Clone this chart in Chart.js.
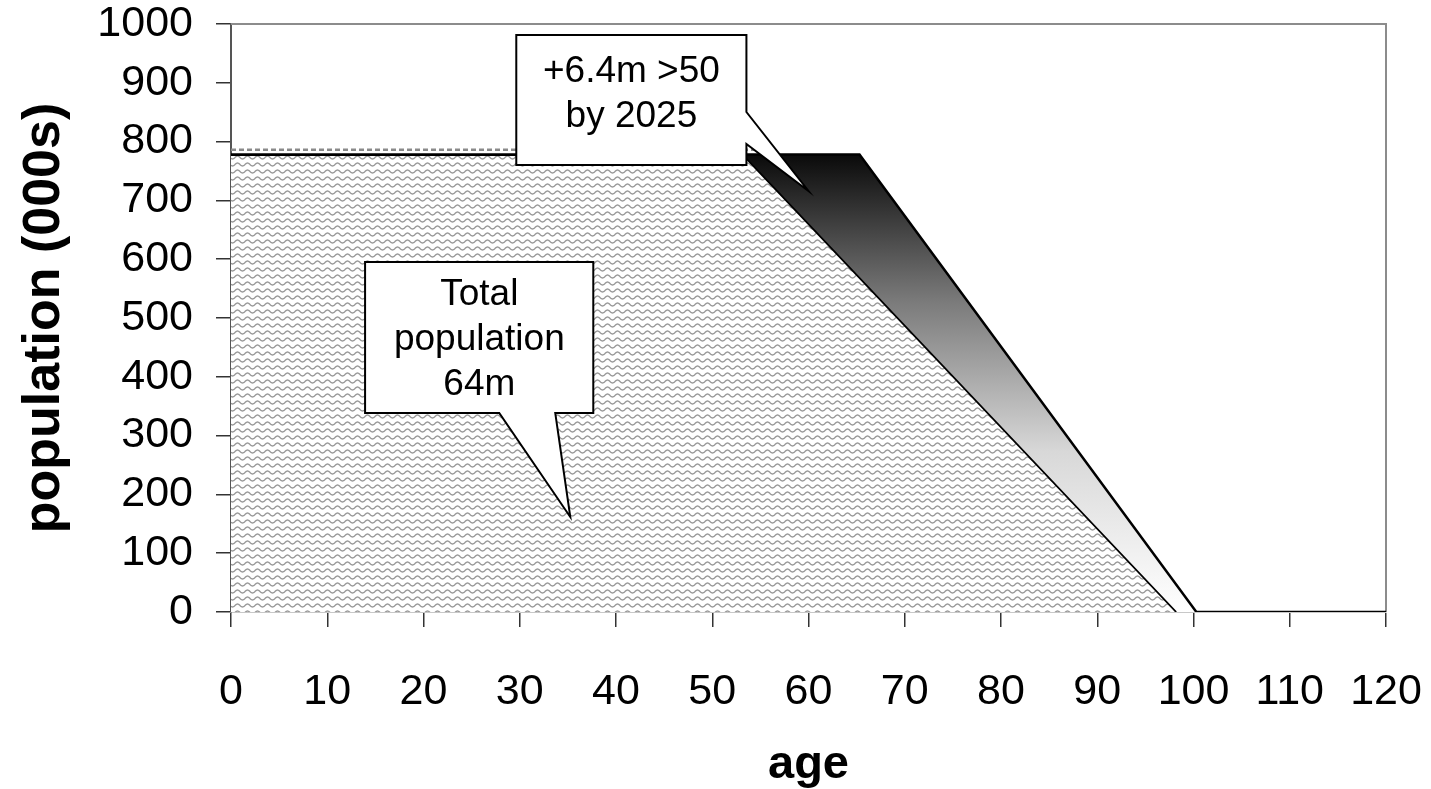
<!DOCTYPE html>
<html>
<head>
<meta charset="utf-8">
<script src="https://cdn.jsdelivr.net/npm/chart.js@4.4.1/dist/chart.umd.min.js"></script>
<style>
  html, body { margin: 0; padding: 0; background: #fff; }
  #wrap { width: 1431px; height: 789px; position: relative; }
</style>
</head>
<body>
<div id="wrap"><canvas id="c" width="1431" height="789"></canvas></div>
<script>
// ---- data ----
const totalAges   = [0, 53.2, 98.2];
const totalValues = [777, 777, 0];
const future2025Ages   = [0, 65.3, 100.3, 120];
const future2025Values = [778, 778, 0, 0];
const dashAges   = [0, 55];
const dashValues = [786, 786];
const xTicks = [0, 10, 20, 30, 40, 50, 60, 70, 80, 90, 100, 110, 120];
const yTicks = [0, 100, 200, 300, 400, 500, 600, 700, 800, 900, 1000];
const callout1Lines = ['Total', 'population', '64m'];
const callout2Lines = ['+6.4m >50', 'by 2025'];

const toPts = (xs, ys) => xs.map((x, i) => ({ x: x, y: ys[i] }));

// wavy hatch pattern
function makePattern() {
  const pc = document.createElement('canvas');
  pc.width = 10; pc.height = 7;
  const p = pc.getContext('2d');
  p.fillStyle = '#ffffff';
  p.fillRect(0, 0, 10, 7);
  p.strokeStyle = '#9a9a9a';
  p.lineWidth = 1.4;
  p.beginPath();
  for (let x = -2; x <= 12; x += 0.5) {
    const y = 3.5 + 1.5 * Math.sin(2 * Math.PI * x / 10);
    if (x === -2) p.moveTo(x, y); else p.lineTo(x, y);
  }
  p.stroke();
  return p.createPattern(pc, 'repeat');
}

const FONT = "'Liberation Sans', Arial, Helvetica, sans-serif";

const frame = {
  id: 'frame',
  beforeDatasetsDraw(chart) {
    const { ctx, chartArea: a } = chart;
    ctx.save();
    ctx.strokeStyle = '#8c8c8c';
    ctx.lineWidth = 2;
    ctx.beginPath();
    ctx.moveTo(a.left, a.top);
    ctx.lineTo(a.right, a.top);
    ctx.lineTo(a.right, a.bottom);
    ctx.stroke();
    ctx.restore();
  }
};

function drawCallout(chart, box, pointer, lines, textX, textYs) {
  const { ctx, scales } = chart;
  const X = v => scales.x.getPixelForValue(v);
  const Y = v => scales.y.getPixelForValue(v);
  const l = X(box[0]), r = X(box[1]), t = Y(box[2]), b = Y(box[3]);
  ctx.save();
  ctx.fillStyle = '#ffffff';
  ctx.strokeStyle = '#000000';
  ctx.lineWidth = 2;
  ctx.lineJoin = 'miter';
  ctx.beginPath();
  ctx.moveTo(l, t);
  ctx.lineTo(r, t);
  if (pointer.side === 'right') {
    ctx.lineTo(r, Y(pointer.a));
    ctx.lineTo(X(pointer.tip[0]), Y(pointer.tip[1]));
    ctx.lineTo(r, Y(pointer.b));
    ctx.lineTo(r, b);
    ctx.lineTo(l, b);
  } else {
    ctx.lineTo(r, b);
    ctx.lineTo(X(pointer.b), b);
    ctx.lineTo(X(pointer.tip[0]), Y(pointer.tip[1]));
    ctx.lineTo(X(pointer.a), b);
    ctx.lineTo(l, b);
  }
  ctx.closePath();
  ctx.fill();
  ctx.stroke();
  ctx.fillStyle = '#000';
  ctx.font = '37px ' + FONT;
  ctx.textAlign = 'center';
  ctx.textBaseline = 'middle';
  lines.forEach((s, i) => ctx.fillText(s, X(textX), Y(textYs[i])));
  ctx.restore();
}

const callouts = {
  id: 'callouts',
  afterDatasetsDraw(chart) {
    drawCallout(chart, [13.93, 37.64, 595.2, 338.4],
      { side: 'bottom', a: 27.87, b: 33.69, tip: [35.25, 161.6] },
      callout1Lines, 25.8, [539, 462.6, 386]);
    drawCallout(chart, [29.64, 53.55, 981.3, 760.2],
      { side: 'right', a: 850.3, b: 795.9, tip: [60.0, 716.0] },
      callout2Lines, 41.6, [918.4, 841.8]);
  }
};

const ctx = document.getElementById('c').getContext('2d');
const pattern = makePattern();

new Chart(ctx, {
  type: 'line',
  data: {
    datasets: [
      {
        label: 'dash',
        data: toPts(dashAges, dashValues),
        borderColor: '#8a8a8a',
        borderWidth: 2.5,
        borderDash: [5, 3],
        pointRadius: 0,
        fill: false,
        order: 0
      },
      {
        label: 'Total',
        data: toPts(totalAges, totalValues),
        borderColor: '#000',
        borderWidth: 1.8,
        backgroundColor: pattern,
        pointRadius: 0,
        fill: 'origin',
        tension: 0,
        order: 1
      },
      {
        label: '2025',
        data: toPts(future2025Ages, future2025Values),
        borderColor: '#000',
        borderWidth: 2.5,
        backgroundColor: (c) => {
          const ch = c.chart;
          if (!ch.chartArea) return '#444';
          const y = ch.scales.y;
          const y0 = y.getPixelForValue(778), y1 = y.getPixelForValue(0);
          const g = ch.ctx.createLinearGradient(0, y0, 0, y1);
          g.addColorStop(0, '#0a0a0a');
          g.addColorStop(0.32, '#7a7a7a');
          g.addColorStop(0.65, '#d8d8d8');
          g.addColorStop(1, '#ffffff');
          return g;
        },
        pointRadius: 0,
        fill: 'origin',
        tension: 0,
        order: 2
      }
    ]
  },
  options: {
    responsive: false,
    animation: false,
    devicePixelRatio: 1,
    layout: { padding: { left: 0, right: 45, top: 24, bottom: 0 } },
    plugins: { legend: { display: false }, tooltip: { enabled: false } },
    scales: {
      x: {
        type: 'linear',
        min: 0, max: 120,
        afterBuildTicks: s => { s.ticks = xTicks.map(v => ({ value: v })); },
        afterFit: s => { s.height = 177; s.paddingLeft = 0; s.paddingRight = 45; },
        ticks: { color: '#000', font: { family: FONT, size: 43 }, padding: 39, maxRotation: 0, autoSkip: false, callback: v => String(v) },
        grid: { drawOnChartArea: false, tickLength: 15, color: '#333', lineWidth: 1.5 },
        border: { color: '#c8c8c8', width: 2 },
        title: { display: true, text: 'age', color: '#000', font: { family: FONT, size: 47, weight: 'bold', lineHeight: 1 }, padding: { top: 0, bottom: 0 } }
      },
      y: {
        min: 0, max: 1000,
        afterBuildTicks: s => { s.ticks = yTicks.map(v => ({ value: v })); },
        afterFit: s => { s.width = 231; s.paddingTop = 24; s.paddingBottom = 0; },
        ticks: { color: '#000', font: { family: FONT, size: 43 }, padding: 23, autoSkip: false, callback: v => String(v) },
        grid: { drawOnChartArea: false, tickLength: 15, color: '#333', lineWidth: 1.5 },
        border: { color: '#555', width: 2 },
        title: { display: true, text: 'population (000s)', color: '#000', font: { family: FONT, size: 52, weight: 'bold', lineHeight: 1 }, padding: { top: 19, bottom: 0 } }
      }
    }
  },
  plugins: [frame, callouts]
});
</script>
</body>
</html>
